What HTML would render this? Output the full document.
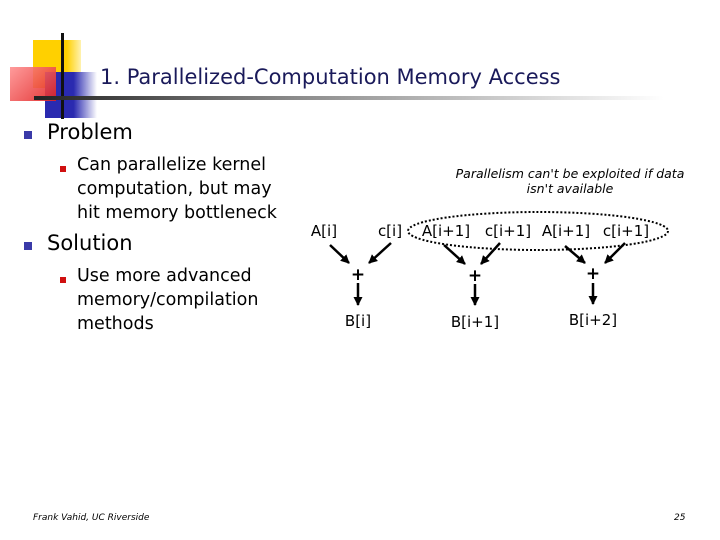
<!DOCTYPE html>
<html><head><style>
body{margin:0;width:720px;height:540px;background:#fff;position:relative;overflow:hidden;font-family:"DejaVu Sans","Liberation Sans",sans-serif;}
.a{position:absolute;white-space:nowrap;}
.t{font-size:21px;color:#1a1a5a;}
.b1{font-size:21px;color:#000;}
.b2{font-size:17.5px;color:#000;line-height:24px;}
.sq{position:absolute;width:8px;height:8px;background:#3a3aa8;}
.rs{position:absolute;width:6px;height:6px;background:#d01010;}
</style></head><body>
<div class="a" style="left:33px;top:40px;width:48px;height:48px;background:linear-gradient(90deg,#ffd000 70%,#fff2b0);"></div>
<div class="a" style="left:45px;top:72px;width:52px;height:46px;background:linear-gradient(90deg,#2a2ab0 55%,#fff);"></div>
<div class="a" style="left:10px;top:67px;width:46px;height:34px;background:linear-gradient(135deg,#ff9090,#e02020);opacity:.9;"></div>
<div class="a" style="left:61px;top:33px;width:3px;height:86px;background:#111;"></div>
<div class="a" style="left:34px;top:96px;width:630px;height:4px;background:linear-gradient(90deg,#222,#888 40%,#fff);"></div>
<div class="a t" style="left:100px;top:65px;">1. Parallelized-Computation Memory Access</div>
<div class="sq" style="left:24px;top:131px;"></div>
<div class="a b1" style="left:47px;top:120px;">Problem</div>
<div class="rs" style="left:60px;top:166px;"></div>
<div class="a b2" style="left:77px;top:153px;">Can parallelize kernel<br>computation, but may<br>hit memory bottleneck</div>
<div class="sq" style="left:24px;top:242px;"></div>
<div class="a b1" style="left:47px;top:231px;">Solution</div>
<div class="rs" style="left:60px;top:277px;"></div>
<div class="a b2" style="left:77px;top:264px;">Use more advanced<br>memory/compilation<br>methods</div>
<div class="a" style="left:440px;top:166px;width:260px;text-align:center;font-size:12.5px;font-style:italic;line-height:15px;color:#000;">Parallelism can't be exploited if data<br>isn't available</div>
<svg class="a" style="left:0;top:0" width="720" height="540">
<defs><marker id="m" markerUnits="userSpaceOnUse" markerWidth="9" markerHeight="9" refX="8" refY="4.5" orient="auto"><path d="M0,0L9,4.5L0,9z" fill="#000"/></marker></defs>
<ellipse cx="538" cy="231" rx="130" ry="19" fill="none" stroke="#000" stroke-width="2" stroke-dasharray="2,2"/>
<g stroke="#000" stroke-width="2.5" marker-end="url(#m)">
<line x1="330" y1="245" x2="349" y2="263"/><line x1="391" y1="243" x2="369" y2="263"/>
<line x1="358" y1="283" x2="358" y2="305"/>
<line x1="444" y1="245" x2="465" y2="264"/><line x1="500" y1="243" x2="481" y2="264"/>
<line x1="475" y1="284" x2="475" y2="305"/>
<line x1="565" y1="246" x2="585" y2="263"/><line x1="625" y1="243" x2="605" y2="263"/>
<line x1="593" y1="283" x2="593" y2="304"/>
</g>
<g font-family="DejaVu Sans,Liberation Sans,sans-serif" font-size="15" fill="#000" text-anchor="middle">
<text x="324" y="236">A[i]</text><text x="390" y="236">c[i]</text>
<text x="446" y="236">A[i+1]</text><text x="508" y="236">c[i+1]</text>
<text x="566" y="236">A[i+1]</text><text x="626" y="236">c[i+1]</text>
<text x="358" y="326">B[i]</text><text x="475" y="327">B[i+1]</text><text x="593" y="325">B[i+2]</text>
<text x="358" y="280" font-weight="bold" font-size="17">+</text>
<text x="475" y="281" font-weight="bold" font-size="17">+</text>
<text x="593" y="279" font-weight="bold" font-size="17">+</text>
</g>
</svg>
<div class="a" style="left:33px;top:513px;font-size:9px;font-style:italic;">Frank Vahid, UC Riverside</div>
<div class="a" style="left:674px;top:513px;font-size:9px;font-style:italic;">25</div>
</body></html>
